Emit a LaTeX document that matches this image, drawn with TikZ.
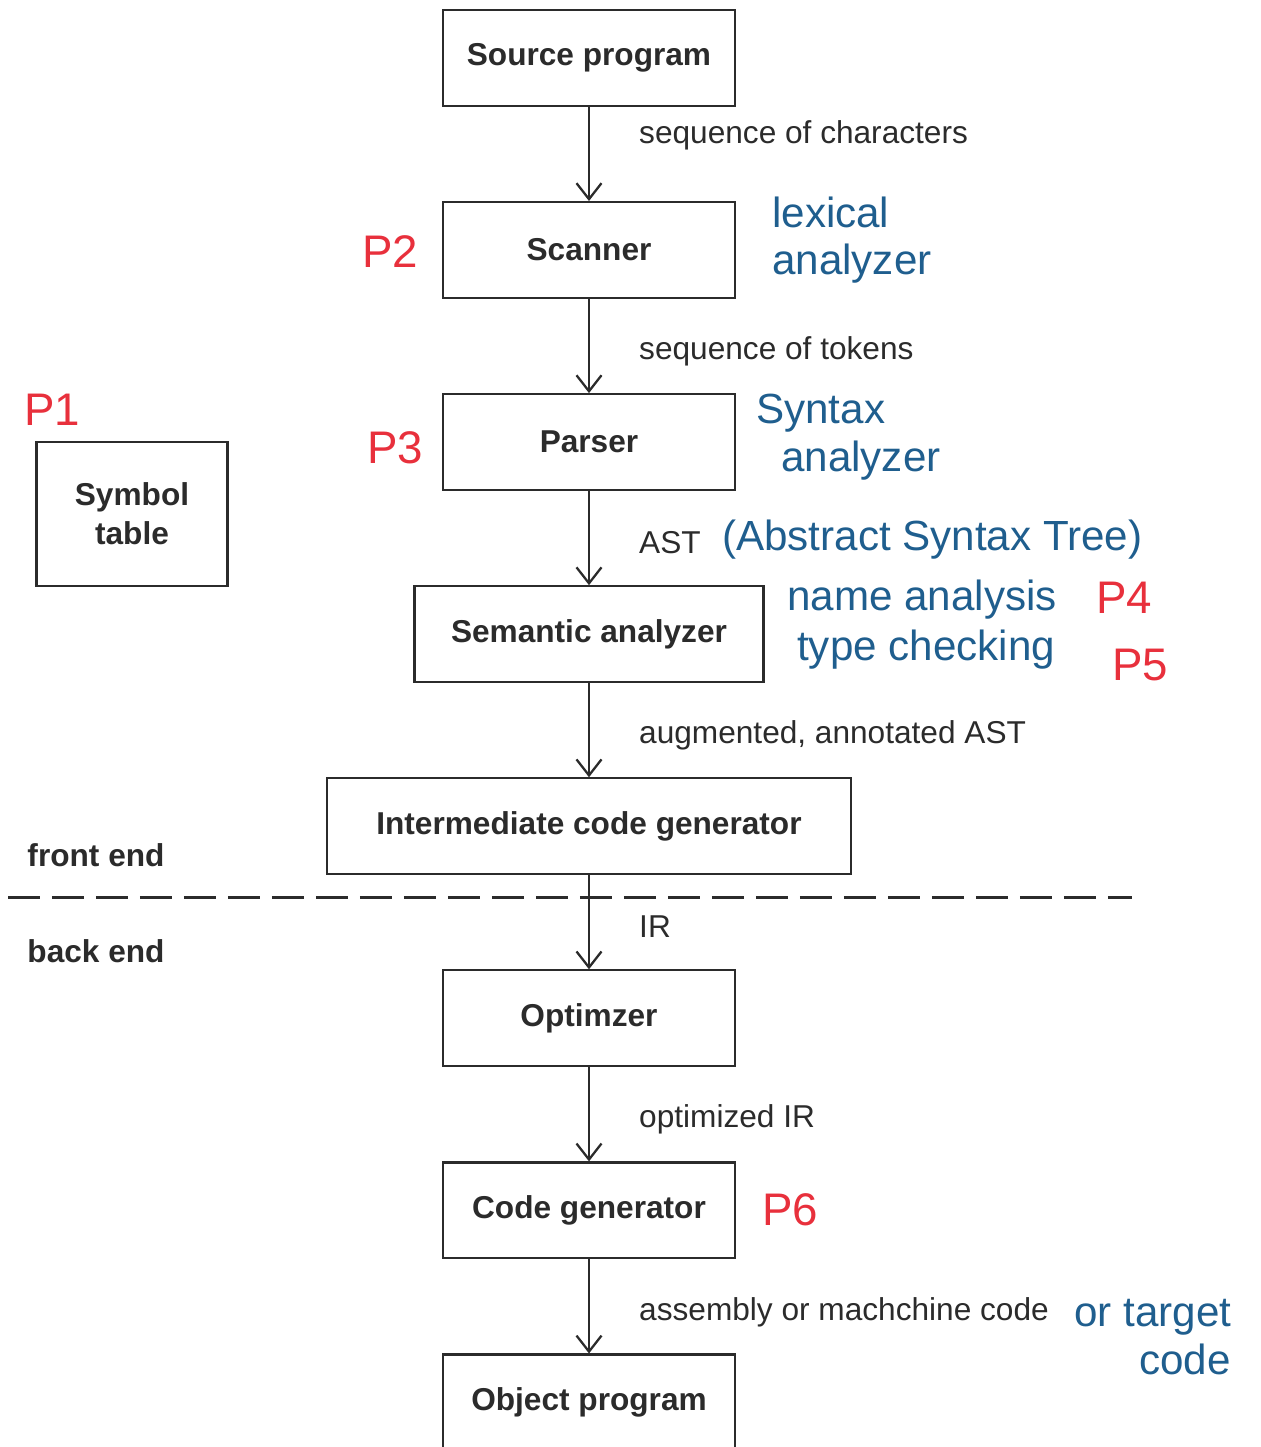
\documentclass[tikz,border=0pt]{standalone}
\usepackage{fontspec}
\setmainfont{Liberation Sans}
\usetikzlibrary{arrows.meta, positioning}
\definecolor{inkgrey}{HTML}{2B2B2B}
\definecolor{penblue}{HTML}{1F5E8E}
\definecolor{penred}{HTML}{E8303C}
\tikzset{
  phase/.style={rectangle, draw=inkgrey, line width=1.2pt, minimum width=5.84cm,
    minimum height=1.92cm, align=center, text=inkgrey,
    font=\fontsize{18}{22}\selectfont\bfseries},
  phasewide/.style={phase, minimum width=6.98cm},
  phasexwide/.style={phase, minimum width=10.48cm},
  flowlabel/.style={anchor=west, text=inkgrey, font=\fontsize{18}{22}\selectfont},
  sidelabel/.style={text=inkgrey, font=\fontsize{18}{22}\selectfont\bfseries},
  arrow/.style={-{Straight Barb[length=3.2mm, width=5mm]}, line width=1.3pt, inkgrey},
  note/.style={text=penblue, align=left, anchor=west, font=\fontsize{24}{27}\selectfont},
  pnote/.style={text=penred, font=\fontsize{26}{28}\selectfont},
}

\begin{document}
\begin{tikzpicture}[x=0.02cm, y=-0.02cm, node distance=1.88cm]
\useasboundingbox (0,0) rectangle (1261,1447);
% pipeline
\node[phase] (src) at (589,58) {Source program};
\node[phase, below=of src] (scan) {Scanner};
\node[phase, below=of scan] (parse) {Parser};
\node[phasewide, below=of parse] (sem) {Semantic analyzer};
\node[phasexwide, below=of sem] (icg) {Intermediate code generator};
\node[phase, below=of icg] (opt) {Optimzer};
\node[phase, below=of opt] (cg) {Code generator};
\node[phase, below=of cg] (obj) {Object program};
\node[phase, minimum width=3.82cm, minimum height=2.88cm] (sym) at (132,514) {Symbol\\table};
\draw[arrow] (src)--(scan);
\draw[arrow] (scan)--(parse);
\draw[arrow] (parse)--(sem);
\draw[arrow] (sem)--(icg);
\draw[arrow] (icg)--(opt);
\draw[arrow] (opt)--(cg);
\draw[arrow] (cg)--(obj);
% what flows between phases
\node[flowlabel] (l1) at (633,135) {sequence of characters};
\node[flowlabel] (l2) at (633,351) {sequence of tokens};
\node[flowlabel] (l3) at (633,543) {AST};
\node[flowlabel] (l4) at (633,735) {augmented, annotated AST};
\node[flowlabel] (l5) at (633,927) {IR};
\node[flowlabel] (l6) at (633,1119) {optimized IR};
\node[flowlabel] (l7) at (633,1312) {assembly or machchine code};
% front / back split
\coordinate (splitl) at (8,897);
\coordinate (splitr) at (1132,897);
\draw[inkgrey, line width=1.7pt, dash pattern=on 6.4mm off 2.4mm] (splitl)--(splitr);
\node[sidelabel] (front) at (96,855) {front end};
\node[sidelabel] (back) at (96,951) {back end};
% pen notes
\node[pnote] (p1) at (52,410) {P1};
\node[pnote] (p2) at (390,252) {P2};
\node[pnote] (p3) at (395,448) {P3};
\node[note] (lex) at (766,240) {lexical\\analyzer};
\node[note] (syn) at (750,437) {Syntax\\\hspace{0.5cm}analyzer};
\node[note] (ast) at (716,540) {(Abstract Syntax Tree)};
\node[note] (name) at (781,600) {name analysis};
\node[pnote] (p4) at (1124,598) {P4};
\node[note] (type) at (791,650) {type checking};
\node[pnote] (p5) at (1140,665) {P5};
\node[pnote] (p6) at (790,1210) {P6};
\node[note] (tgt) at (1068,1337) {or target\\\hspace{1.3cm}code};
\end{tikzpicture}
\end{document}
